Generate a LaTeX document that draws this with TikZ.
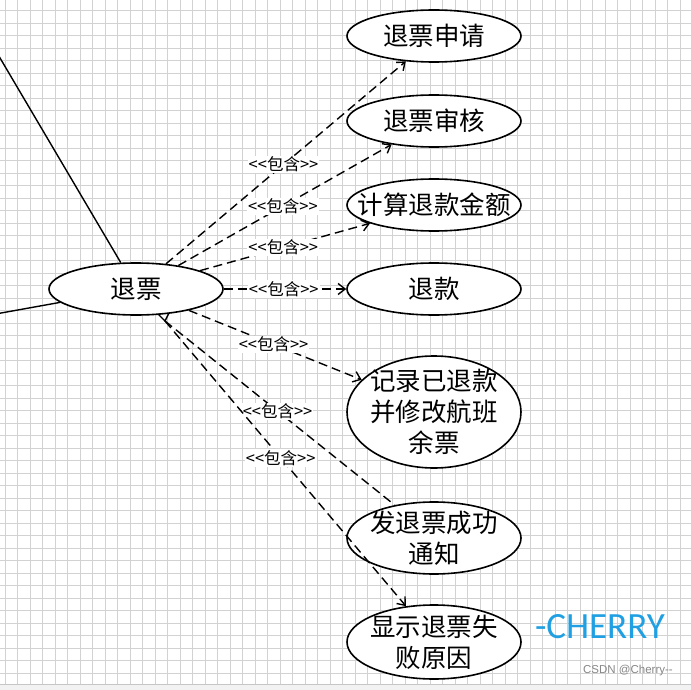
\documentclass[tikz,border=0pt]{standalone}
\usepackage{fontspec}
\setmainfont{Liberation Sans}
\newfontfamily\cjk{Noto Sans CJK SC}
\newfontfamily\carl{Carlito}
\usetikzlibrary{shapes.geometric,arrows.meta}
\definecolor{gridc}{RGB}{210,210,210}
\definecolor{cherry}{RGB}{32,160,226}
\definecolor{csdn}{RGB}{135,135,135}
\begin{document}
\begin{tikzpicture}[x=1pt,y=-1pt,
  uc/.style={ellipse, draw=black, line width=1.6pt, fill=white,
    minimum width=174pt, minimum height=52pt, inner sep=-22pt, align=center,
    font=\cjk\fontsize{25.5}{31}\selectfont},
  inc/.style={line width=1.4pt, dash pattern=on 9pt off 5pt,
    -{Straight Barb[length=7pt,width=11pt]}},
  incn/.style={line width=1.4pt, dash pattern=on 9pt off 5pt},
  lbl/.style={fill=white, inner sep=1pt, pos=0.49,
    font=\cjk\fontsize{16.5}{17}\selectfont},
  actorline/.style={line width=1.4pt},
  gline/.style={draw=gridc, line width=0.6pt}
]
\useasboundingbox (0,0) rectangle (691,690);
\fill[white] (0,0) rectangle (691,690);
\foreach \i in {0,...,55} \draw[gline] ({5+12.5*\i},0) -- ({5+12.5*\i},690);
\foreach \i in {0,...,54} \draw[gline] (0,{10.7+12.5*\i}) -- (691,{10.7+12.5*\i});
\fill[gray!10] (0,684) rectangle (691,690);
\draw[gray!45, line width=0.8pt] (0,684) -- (691,684);

% use cases
\node[uc] (tp) at (136,289) {退票};
\node[uc] (sq) at (434,36) {退票申请};
\node[uc] (sh) at (434,121) {退票审核};
\node[uc] (js) at (434,205) {计算退款金额};
\node[uc] (tk) at (434,289) {退款};
\node[uc, minimum height=112pt] (jl) at (434,412) {记录已退款\\并修改航班\\余票};
\node[uc, minimum height=72pt] (fs) at (434,538) {发退票成功\\通知};
\node[uc, minimum height=74pt] (xs) at (434,642) {显示退票失\\败原因};

% actor lines
\coordinate (a1) at (-10,41);
\coordinate (a2) at (-10,315);
\draw[actorline] (a1) -- (tp.120);
\draw[actorline] (a2) -- (tp.190);

% include relations
\draw[inc] (tp.40) -- node[lbl]{<{}<包含>{}>} (sq.222);
\draw[inc] (tp.29) -- node[lbl]{<{}<包含>{}>} (sh.209);
\draw[inc] (tp.16) -- node[lbl]{<{}<包含>{}>} (js.196);
\draw[inc] (tp.east) -- node[lbl]{<{}<包含>{}>} (tk.west);
\draw[inc] (tp.-22) -- node[lbl]{<{}<包含>{}>} (jl.156);
\coordinate (vt) at (165,321);
\draw[incn] (vt) -- node[lbl]{<{}<包含>{}>} (fs.140);
\draw[inc] (vt) -- node[lbl, pos=0.48]{<{}<包含>{}>} (xs.128);
\coordinate (v1) at (158,314);
\coordinate (v2) at (169,313);
\draw[line width=1.4pt] (v1) -- (vt) -- (v2);

% watermark texts
\node[text=cherry, font=\carl\fontsize{37}{40}\selectfont, inner sep=0pt] (ch) at (600,627) {-CHERRY};
\node[text=csdn, font=\fontsize{11.5}{12}\selectfont, inner sep=0pt] (cs) at (628,671) {CSDN @Cherry-{}-};
\end{tikzpicture}
\end{document}
